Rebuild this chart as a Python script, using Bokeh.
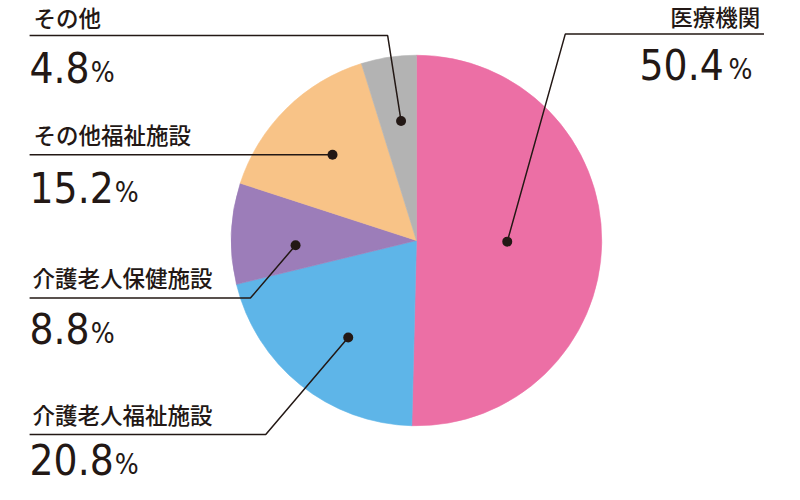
import numpy as np
from bokeh.plotting import figure
from bokeh.models import Range1d
from bokeh.core.properties import value
from bokeh.embed import file_html
from bokeh.resources import INLINE

# ---- data ----
categories = ["医療機関", "介護老人福祉施設", "介護老人保健施設", "その他福祉施設", "その他"]
shares = [50.4, 20.8, 8.8, 15.2, 4.8]
share_labels = ["50.4", "20.8", "8.8", "15.2", "4.8"]
colors = ["#EC6FA5", "#5EB5E8", "#9C7DB9", "#F8C387", "#B3B3B3"]

# ---- layout (reference pixel coordinates, y downward) ----
S = 0.96
X0, Y0 = -8.3, -1.0
W, H = 784, 484
CX, CY, R = 425, 249, 193
dot_t = [0.5, 0.45, 0.36, 0.505, 0.575]       # position of dot inside slice (fraction of angle)
dot_rf = [0.49, 0.64, 0.653, 0.648, 0.65]     # radial position of dot
elbow = [(580, 34), (268, 451), (252, 309), None, (395, 35.5)]
line_end_x = [787, 22, 22, 22, 22]
line_y = [34, 451, 309, 160, 35.5]
name_pos = [(783, 15, "right"), (25, 430, "left"), (25, 287, "left"), (26, 138, "left"), (26, 16, "left")]
num_pos = [(745, 66, "right"), (22, 477, "left"), (22, 341, "left"), (22, 194, "left"), (22, 69, "left")]

NUM_PX = 42
PCT_PX = 28
INK = "#231815"

def Y(y):
    return 500 - y

def est_width(s, px):
    w = 0.0
    for ch in s:
        w += 0.286 if ch == "." else 0.5725
    return w * px / S

p = figure(width=W, height=H,
           x_range=Range1d(X0, X0 + W / S),
           y_range=Range1d(500 - (Y0 + H / S), 500 - Y0),
           output_backend="svg", toolbar_location=None, min_border=0,
           x_axis_location=None, y_axis_location=None)
p.grid.visible = False
p.outline_line_color = None
p.background_fill_color = "white"
p.border_fill_color = "white"

cum = np.concatenate([[0], np.cumsum(shares)])
start = np.pi / 2 - 2 * np.pi * cum[:-1] / 100
end = np.pi / 2 - 2 * np.pi * cum[1:] / 100
p.wedge(x=CX, y=Y(CY), radius=R, start_angle=list(start), end_angle=list(end), direction="clock",
        fill_color=colors, line_color=colors, line_width=0.6)

# dots
frac = cum[:-1] + np.array(dot_t) * np.array(shares)
ang = 2 * np.pi * frac / 100
dx = CX + np.array(dot_rf) * R * np.sin(ang)
dy = Y(CY) + np.array(dot_rf) * R * np.cos(ang)

# leader lines
xs, ys = [], []
for i in range(len(categories)):
    if elbow[i] is None:
        xs.append([dx[i], line_end_x[i]])
        ys.append([dy[i], dy[i]])
    else:
        ex, ey = elbow[i]
        xs.append([dx[i], ex, line_end_x[i]])
        ys.append([dy[i], Y(ey), Y(line_y[i])])
p.multi_line(xs=xs, ys=ys, line_color=INK, line_width=1.5)
p.scatter(x=list(dx), y=list(dy), size=10, fill_color=INK, line_color=None)

# category names
jp_font = value("'Noto Sans CJK JP Medium', 'Noto Sans CJK JP', sans-serif")
for i, c in enumerate(categories):
    x, y, al = name_pos[i]
    p.text(x=[x], y=[Y(y)], text=[c], text_font=jp_font, text_font_size=value("22.5px"),
           text_align=al, text_baseline="middle", text_color=INK)

# share values
num_font = value("'DejaVu Sans Condensed', Roboto, sans-serif")
for i, s in enumerate(share_labels):
    x, y, al = num_pos[i]
    p.text(x=[x], y=[Y(y)], text=[s], text_font=num_font, text_font_size=value(f"{NUM_PX}px"),
           text_align=al, text_baseline="middle", text_color=INK)
    if al == "left":
        px_ = x + est_width(s, NUM_PX) + 1
    else:
        px_ = x + 5
    p.text(x=[px_], y=[Y(y + 5)], text=["%"], text_font=num_font, text_font_size=value(f"{PCT_PX}px"),
           text_align="left", text_baseline="middle", text_color=INK)

open("out.html", "w").write(file_html(p, INLINE))
